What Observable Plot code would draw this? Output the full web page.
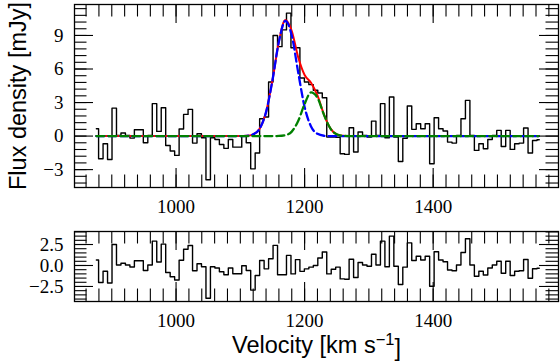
<!DOCTYPE html>
<html><head><meta charset="utf-8">
<script src="https://cdn.jsdelivr.net/npm/d3@7"></script>
<script src="https://cdn.jsdelivr.net/npm/@observablehq/plot@0.6"></script>
<style>
body{margin:0;background:#fff;}
#wrap{position:relative;width:560px;height:364px;overflow:hidden;background:#fff}
#wrap svg{position:absolute;left:0;overflow:visible}
</style></head><body><div id="wrap"></div>
<script>
// channel grid (km/s)
const v0 = 876, dv = 6.96;
// observed flux density per channel [mJy]
const flux = [
0.66, -2.03, -0.69, -2.09, 2.5, 0.06, 0.27, 0.06, -0.18, 0.57,
0.57, -0.6, 0.06, 2.9, 0.42, 2.54, -0.84, -1.34, -1.73, 0.63,
1.94, 2.39, -0.63, 0.21, -0.15, -3.91, -0.15, -0.3, -0.75, -1.1,
-0.3, -0.99, -0.99, -0.03, -0.6, -2.93, -1.52, 1.55, 1.7, 4.84,
9.0, 8.0, 9.5, 11.0, 7.9, 7.9, 5.2, 4.84, 4.6, 4.1,
3.85, 3.43, -0.09, -0.09, -0.1, -1.58, -1.64, 0.75, -1.43, 0.36,
0.06, -0.09, 1.34, 0.06, 2.9, -0.15, 3.5, -0.09, -2.27, -0.2,
2.69, 0.6, 1.1, 0.66, 1.1, -2.48, 1.64, 0.66, 0.45, -0.54,
-0.63, 0.06, 1.55, 3.19, 0.06, -1.28, -0.69, -1.13, -0.3, 0.06,
0.51, -0.93, 0.51, -1.19, -0.69, -0.63, 0.72, -1.52, -0.39, -0.33
];
// residuals per channel [mJy]
const resid = [
0.66, -2.03, -0.69, -2.09, 2.5, 0.06, 0.27, 0.06, -0.18, 0.57,
0.57, -0.6, 0.06, 2.9, 0.42, 2.54, -0.84, -1.34, -1.73, 0.63,
1.94, 2.39, -0.63, 0.21, -0.15, -3.91, -0.15, -0.3, -0.75, -1.1,
-0.3, -0.99, -0.99, -0.03, -0.6, -2.93, -1.19, 0.6, -0.4, 0.8,
2.4, -1.1, -1.1, 1.2, -1.0, 0.7, -0.7, -0.4, -0.2, 0.0,
0.9, 1.6, -1.0, -0.45, -0.2, -1.6, -1.64, 0.75, -1.43, 0.36,
0.06, -0.09, 1.34, 0.06, 2.9, -0.15, 3.5, -0.09, -2.27, -0.2,
2.69, 0.6, 1.1, 0.66, 1.1, -2.48, 1.64, 0.66, 0.45, -0.54,
-0.63, 0.06, 1.55, 3.19, 0.06, -1.28, -0.69, -1.13, -0.3, 0.06,
0.51, -0.93, 0.51, -1.19, -0.69, -0.63, 0.72, -1.52, -0.39, -0.33
];
// fitted model, sampled velocities and values
const modelV     = [876, 1100, 1110, 1120, 1130, 1140, 1150, 1160, 1170, 1180, 1190, 1200, 1210, 1220, 1230, 1240, 1250, 1260, 1270, 1564];
const modelBlue  = [0, 0, 0.02, 0.15, 0.66, 2.14, 5.0, 8.45, 10.3, 9.0, 5.7, 2.6, 0.86, 0.2, 0.03, 0, 0, 0, 0, 0];
const modelGreen = [0, 0, 0, 0, 0, 0, 0, 0.01, 0.08, 0.4, 1.35, 2.87, 3.91, 3.43, 1.92, 0.69, 0.16, 0.02, 0, 0];
const modelTotal = [0, 0, 0.02, 0.15, 0.66, 2.14, 5.0, 8.46, 10.38, 9.4, 7.05, 5.47, 4.77, 3.63, 1.95, 0.69, 0.16, 0.02, 0, 0];
// axes
const xMajor = [1000, 1200, 1400];
const yMajorTop = [-3, 0, 3, 6, 9];
const yMajorBot = [-2.5, 0, 2.5];
const yLabel = "Flux density [mJy]";
const xLabel = "Velocity [km s\u22121]";

const xDomain = [842, 1595];
const W = 560, ML = 74, MR = 2;
const FW = W - ML - MR;
const serif = "'Liberation Serif', 'DejaVu Serif', serif";
const sans = "'Liberation Sans', Arial, sans-serif";
const spec = flux.map((f, i) => ({v: v0 + dv * i, f, r: resid[i]}));
const model = modelV.map((v, i) => ({v, t: modelTotal[i], b: modelBlue[i], g: modelGreen[i]}));
const xMinor = d3.range(860, 1600, 20).filter(d => d > xDomain[0] && d < xDomain[1]);
const tickLen = 12.5, majLen = 19;

function frameTicks(H, yMinor, yMajor) {
  const tw = 1.1;
  return [
    Plot.ruleX(xMinor, {x: d => d, insetTop: H - tickLen, stroke: "#000", strokeWidth: tw}),
    Plot.ruleX(xMinor, {x: d => d, insetBottom: H - tickLen, stroke: "#000", strokeWidth: tw}),
    Plot.ruleX(xMajor, {x: d => d, insetTop: H - majLen, stroke: "#000", strokeWidth: tw}),
    Plot.ruleX(xMajor, {x: d => d, insetBottom: H - majLen, stroke: "#000", strokeWidth: tw}),
    Plot.ruleY(yMinor, {y: d => d, insetRight: FW - tickLen, stroke: "#000", strokeWidth: tw}),
    Plot.ruleY(yMinor, {y: d => d, insetLeft: FW - tickLen, stroke: "#000", strokeWidth: tw}),
    Plot.ruleY(yMajor, {y: d => d, insetRight: FW - majLen, stroke: "#000", strokeWidth: tw}),
    Plot.ruleY(yMajor, {y: d => d, insetLeft: FW - majLen, stroke: "#000", strokeWidth: tw}),
    Plot.frame({stroke: "#000", strokeWidth: 1.3})
  ];
}
const fmtX = d => String(d);

// ---- top panel ----
const topDomain = [-4.6, 11.77];
const H1 = 225, MT1 = 4, MB1 = 38;
const topPlot = Plot.plot({
  width: W, height: H1, marginTop: MT1, marginBottom: MB1, marginLeft: ML, marginRight: MR,
  x: {domain: xDomain}, y: {domain: topDomain},
  style: {background: "transparent", overflow: "visible"},
  marks: [
    Plot.line(spec, {x: "v", y: "f", curve: "step", stroke: "#000", strokeWidth: 1.4}),
    Plot.line(model, {x: "v", y: "t", curve: "monotone-x", stroke: "#ff0000", strokeWidth: 2}),
    Plot.line(model, {x: "v", y: "b", curve: "monotone-x", stroke: "#0000ff", strokeWidth: 2.3, strokeDasharray: "8,4"}),
    Plot.line(model, {x: "v", y: "g", curve: "monotone-x", stroke: "#008000", strokeWidth: 2.3, strokeDasharray: "8,4"}),
    ...frameTicks(H1 - MT1 - MB1, d3.range(-4.2, 11.8, 0.6), yMajorTop),
    Plot.axisX({ticks: xMajor, tickSize: 0, tickPadding: 12, fontSize: 19, fontFamily: serif, label: null, tickFormat: fmtX}),
    Plot.axisY({ticks: yMajorTop, tickSize: 0, tickPadding: 11, fontSize: 19, fontFamily: serif, label: null}),
    Plot.text([yLabel], {text: d => d, frameAnchor: "left", textAnchor: "middle", rotate: -90, dx: -56, fontSize: 23.5, fontFamily: sans, fill: "#000"})
  ]
});

// ---- bottom panel ----
const botDomain = [-4.29, 4.05];
const H2 = 139, MT2 = 6, MB2 = 63;
const botPlot = Plot.plot({
  width: W, height: H2, marginTop: MT2, marginBottom: MB2, marginLeft: ML, marginRight: MR,
  x: {domain: xDomain}, y: {domain: botDomain},
  style: {background: "transparent", overflow: "visible"},
  marks: [
    Plot.line(spec, {x: "v", y: "r", curve: "step", stroke: "#000", strokeWidth: 1.4}),
    ...frameTicks(H2 - MT2 - MB2, d3.range(-4, 4.01, 0.5), yMajorBot),
    Plot.axisX({ticks: xMajor, tickSize: 0, tickPadding: 12, fontSize: 19, fontFamily: serif, label: null, tickFormat: fmtX}),
    Plot.axisY({ticks: yMajorBot, tickSize: 0, tickPadding: 11, fontSize: 19, fontFamily: serif, label: null, tickFormat: d3.format(".1f")}),
    Plot.text([xLabel], {text: d => d, frameAnchor: "bottom", textAnchor: "middle", dy: 51, lineAnchor: "bottom", fontSize: 23.5, fontFamily: sans, fill: "#000"})
  ]
});

const wrap = document.getElementById("wrap");
topPlot.style.top = "0px";
botPlot.style.top = "225px";
wrap.appendChild(topPlot);
wrap.appendChild(botPlot);

// superscript in the x label
d3.select(botPlot).selectAll("text").filter(function() { return this.textContent === xLabel; })
  .each(function() {
    const t = d3.select(this);
    t.text(null);
    t.append("tspan").text("Velocity [km s");
    t.append("tspan").attr("dy", "-0.45em").attr("font-size", "0.7em").text("\u22121");
    t.append("tspan").attr("dy", "0.45em").text("]");
  });
</script>
</body></html>
